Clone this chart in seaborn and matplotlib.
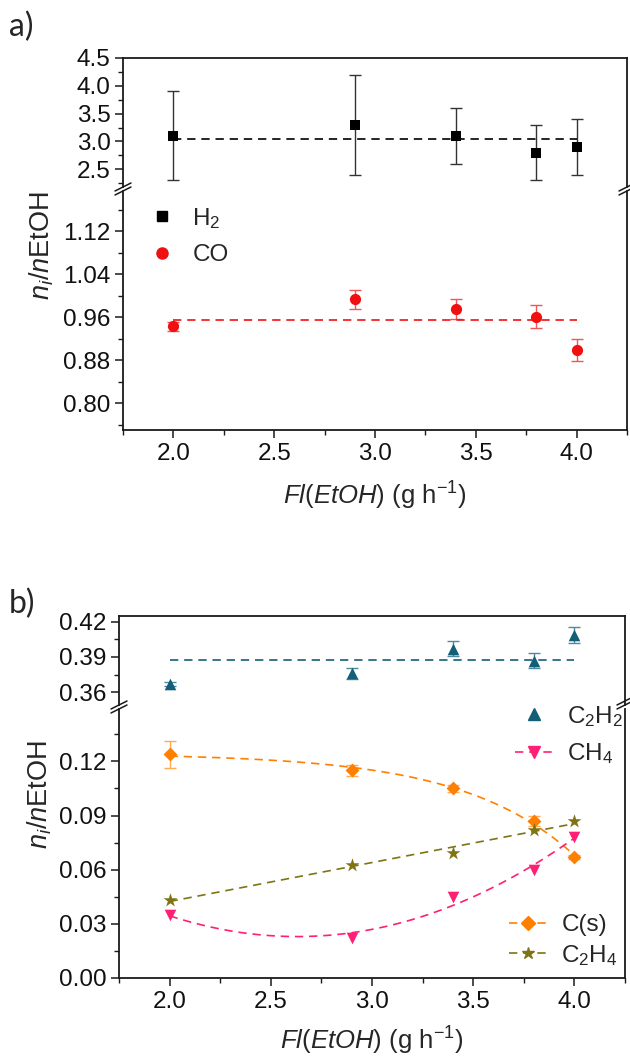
import numpy as np
import matplotlib
matplotlib.use("Agg")
import matplotlib.pyplot as plt
import seaborn as sns
from matplotlib.lines import Line2D
from matplotlib.legend import Legend
from matplotlib.ticker import MultipleLocator, FormatStrFormatter

# ethanol feed rate (g/h)
flow = [2.0, 2.9, 3.4, 3.8, 4.0]

# panel a
h2 = [3.1, 3.3, 3.1, 2.8, 2.9]
h2_err = [0.8, 0.9, 0.5, 0.5, 0.5]
co = [0.943, 0.993, 0.975, 0.961, 0.899]
co_err = [0.009, 0.017, 0.019, 0.021, 0.021]

# panel b
c2h2 = [0.367, 0.376, 0.397, 0.387, 0.409]
c2h2_err = [0.002, 0.0045, 0.0065, 0.0068, 0.0068]
c_s = [0.124, 0.115, 0.105, 0.087, 0.067]
c_s_err = [0.0075, 0.003, 0.002, 0.003, 0.001]
c2h4 = [0.043, 0.0625, 0.069, 0.082, 0.087]
ch4 = [0.035, 0.022, 0.045, 0.060, 0.078]

COL_H2 = "black"
COL_CO = "#f01010"
COL_C2H2 = "#145f78"
COL_CH4 = "#ff1f75"
COL_CS = "#ff8000"
COL_C2H4 = "#7f7314"

sns.set_theme(style="ticks")
plt.rcParams["font.family"] = ["Liberation Sans", "DejaVu Sans"]
plt.rcParams["mathtext.fontset"] = "custom"
plt.rcParams["mathtext.rm"] = "Liberation Sans"
plt.rcParams["mathtext.it"] = "Liberation Sans:italic"
plt.rcParams["mathtext.bf"] = "Liberation Sans:bold"

W, H = 630, 1057
fig = plt.figure(figsize=(W / 100, H / 100), dpi=100)


def fx(px):
    return px / W


def fy(py):
    return 1 - py / H


def px_axes(left, right, top, bottom):
    return fig.add_axes([fx(left), fy(bottom), (right - left) / W, (bottom - top) / H])


def style_axes(ax, upper):
    for s in ax.spines.values():
        s.set_linewidth(1.3)
        s.set_color("#1a1a1a")
    ax.tick_params(axis="both", which="major", direction="out", length=6, width=1.1,
                   labelsize=17.5, color="#1a1a1a", labelcolor="#111111", pad=3)
    ax.tick_params(axis="both", which="minor", direction="out", length=3.5, width=1.0,
                   color="#1a1a1a")
    ax.tick_params(right=False, top=False, which="both")
    ax.set_xlim(1.75, 4.25)
    ax.xaxis.set_major_locator(MultipleLocator(0.5))
    ax.xaxis.set_minor_locator(MultipleLocator(0.25))
    ax.xaxis.set_major_formatter(FormatStrFormatter("%.1f"))
    if upper:
        ax.spines["bottom"].set_visible(False)
        ax.tick_params(axis="x", which="both", bottom=False, labelbottom=False)
    else:
        ax.spines["top"].set_visible(False)


def draw_break(x, y_hi, y_lo):
    for yy in (y_hi, y_lo):
        fig.add_artist(Line2D([fx(x - 8), fx(x + 8)], [fy(yy + 4), fy(yy - 4)],
                              transform=fig.transFigure, color="#1a1a1a", lw=1.1))


def exp_fit(x, y):
    # least squares for y = a + b*exp(c*x), scanning c
    x = np.asarray(x)
    y = np.asarray(y)
    best = None
    for c in np.linspace(0.2, 4.0, 381):
        A = np.column_stack([np.ones_like(x), np.exp(c * x)])
        coef, *_ = np.linalg.lstsq(A, y, rcond=None)
        err = np.sum((A @ coef - y) ** 2)
        if best is None or err < best[0]:
            best = (err, c, coef)
    _, c, (a, b) = best
    xs = np.linspace(x.min(), x.max(), 100)
    return xs, a + b * np.exp(c * xs)


dash = (0, (5, 3.5))
leg_kw = dict(loc="upper left", frameon=False, bbox_transform=fig.transFigure,
              borderaxespad=0, borderpad=0, handletextpad=0.55, fontsize=17.5)

# ---------------- panel a ----------------
a_top = px_axes(123, 627, 58, 187)
a_bot = px_axes(123, 627, 191, 430)
style_axes(a_top, True)
style_axes(a_bot, False)

a_top.errorbar(flow, h2, yerr=h2_err, fmt="none", ecolor="#333333", elinewidth=1,
               capsize=4, capthick=1, zorder=2)
a_top.hlines(np.mean(h2), min(flow), max(flow), colors=COL_H2, linestyles=dash, lw=1.2)
sns.scatterplot(x=flow, y=h2, marker="s", s=55, color=COL_H2, linewidth=0, ax=a_top, zorder=3)

a_bot.errorbar(flow, co, yerr=co_err, fmt="none", ecolor="#f25555", elinewidth=1,
               capsize=4, capthick=1, zorder=2)
a_bot.hlines(np.mean(co), min(flow), max(flow), colors=COL_CO, linestyles=dash, lw=1.2)
sns.scatterplot(x=flow, y=co, marker="o", s=65, color=COL_CO, linewidth=0, ax=a_bot, zorder=3)

a_top.set_ylim(2.18, 4.5)
a_top.yaxis.set_major_locator(MultipleLocator(0.5))
a_top.yaxis.set_minor_locator(MultipleLocator(0.25))
a_top.yaxis.set_major_formatter(FormatStrFormatter("%.1f"))
a_bot.set_ylim(0.75, 1.195)
a_bot.yaxis.set_major_locator(MultipleLocator(0.08))
a_bot.yaxis.set_minor_locator(MultipleLocator(0.04))
a_bot.yaxis.set_major_formatter(FormatStrFormatter("%.2f"))
a_top.set_ylabel("")
a_bot.set_ylabel("")

a_handles = [
    Line2D([], [], marker="s", ls="none", color=COL_H2, markersize=7.5),
    Line2D([], [], marker="o", ls="none", color=COL_CO, markersize=8),
]
a_bot.legend(a_handles, [r"H$_2$", "CO"], bbox_to_anchor=(fx(145), fy(206)),
             handlelength=1.4, labelspacing=0.55, **leg_kw)
a_bot.set_xlabel(r"$\mathit{Fl(EtOH)}$ (g h$^{-1}$)", fontsize=18.5, labelpad=11)
draw_break(123, 187, 191)
draw_break(627, 187, 191)
fig.text(fx(42), fy(246), r"$\mathit{n_i}$/$\mathit{n}$EtOH", rotation=90,
         ha="center", va="center", fontsize=19.5)
fig.text(fx(9), fy(27), "a)", fontsize=23, family="Lato", ha="left", va="center")

# ---------------- panel b ----------------
b_top = px_axes(119, 625, 616, 705)
b_bot = px_axes(119, 625, 709, 978)
style_axes(b_top, True)
style_axes(b_bot, False)

b_top.errorbar(flow, c2h2, yerr=c2h2_err, fmt="none", ecolor="#4d8aa0", elinewidth=1,
               capsize=4, capthick=1, zorder=2)
b_top.hlines(np.mean(c2h2), min(flow), max(flow), colors=COL_C2H2, linestyles=dash, lw=1.2)
sns.scatterplot(x=flow, y=c2h2, marker="^", s=70, color=COL_C2H2, linewidth=0, ax=b_top, zorder=3)

b_bot.errorbar(flow, c_s, yerr=c_s_err, fmt="none", ecolor="#ffaa55", elinewidth=1,
               capsize=4, capthick=1, zorder=2)
xs_cs, fit_cs = exp_fit(flow, c_s)
sns.lineplot(x=xs_cs, y=fit_cs, ax=b_bot, color=COL_CS, lw=1.2, ls=dash)
for yv, col, order in ((ch4, COL_CH4, 2), (c2h4, COL_C2H4, 1)):
    sns.regplot(x=np.array(flow), y=np.array(yv), order=order, ci=None, scatter=False,
                ax=b_bot, color=col, line_kws=dict(ls=dash, lw=1.2))
sns.scatterplot(x=flow, y=c_s, marker="D", s=50, color=COL_CS, linewidth=0, ax=b_bot, zorder=3)
sns.scatterplot(x=flow, y=c2h4, marker="*", s=110, color=COL_C2H4, linewidth=0, ax=b_bot, zorder=3)
sns.scatterplot(x=flow, y=ch4, marker="v", s=70, color=COL_CH4, linewidth=0, ax=b_bot, zorder=3)

b_top.set_ylim(0.349, 0.425)
b_top.yaxis.set_major_locator(MultipleLocator(0.03))
b_top.yaxis.set_minor_locator(MultipleLocator(0.015))
b_top.yaxis.set_major_formatter(FormatStrFormatter("%.2f"))
b_bot.set_ylim(0.0, 0.149)
b_bot.yaxis.set_major_locator(MultipleLocator(0.03))
b_bot.yaxis.set_minor_locator(MultipleLocator(0.015))
b_bot.yaxis.set_major_formatter(FormatStrFormatter("%.2f"))
b_top.set_ylabel("")
b_bot.set_ylabel("")

b_handles1 = [
    Line2D([], [], marker="^", ls="none", color=COL_C2H2, markersize=8.5),
    Line2D([], [], marker="v", ls=dash, lw=1.2, color=COL_CH4, markersize=8.5),
]
b_bot.legend(b_handles1, [r"C$_2$H$_2$", r"CH$_4$"], bbox_to_anchor=(fx(515), fy(704)),
             handlelength=1.6, labelspacing=0.5, **leg_kw)
b_handles2 = [
    Line2D([], [], marker="D", ls=dash, lw=1.2, color=COL_CS, markersize=7),
    Line2D([], [], marker="*", ls=dash, lw=1.2, color=COL_C2H4, markersize=9),
]
l2 = Legend(b_bot, b_handles2, ["C(s)", r"C$_2$H$_4$"], bbox_to_anchor=(fx(509), fy(914)),
            handlelength=1.6, labelspacing=0.28, **leg_kw)
b_bot.add_artist(l2)
b_bot.set_xlabel(r"$\mathit{Fl(EtOH)}$ (g h$^{-1}$)", fontsize=18.5, labelpad=9)
draw_break(119, 705, 709)
draw_break(625, 701, 705)
fig.text(fx(40), fy(795), r"$\mathit{n_i}$/$\mathit{n}$EtOH", rotation=90,
         ha="center", va="center", fontsize=19.5)
fig.text(fx(9), fy(604), "b)", fontsize=23, family="Lato", ha="left", va="center")

fig.savefig("out.png", dpi=100)
